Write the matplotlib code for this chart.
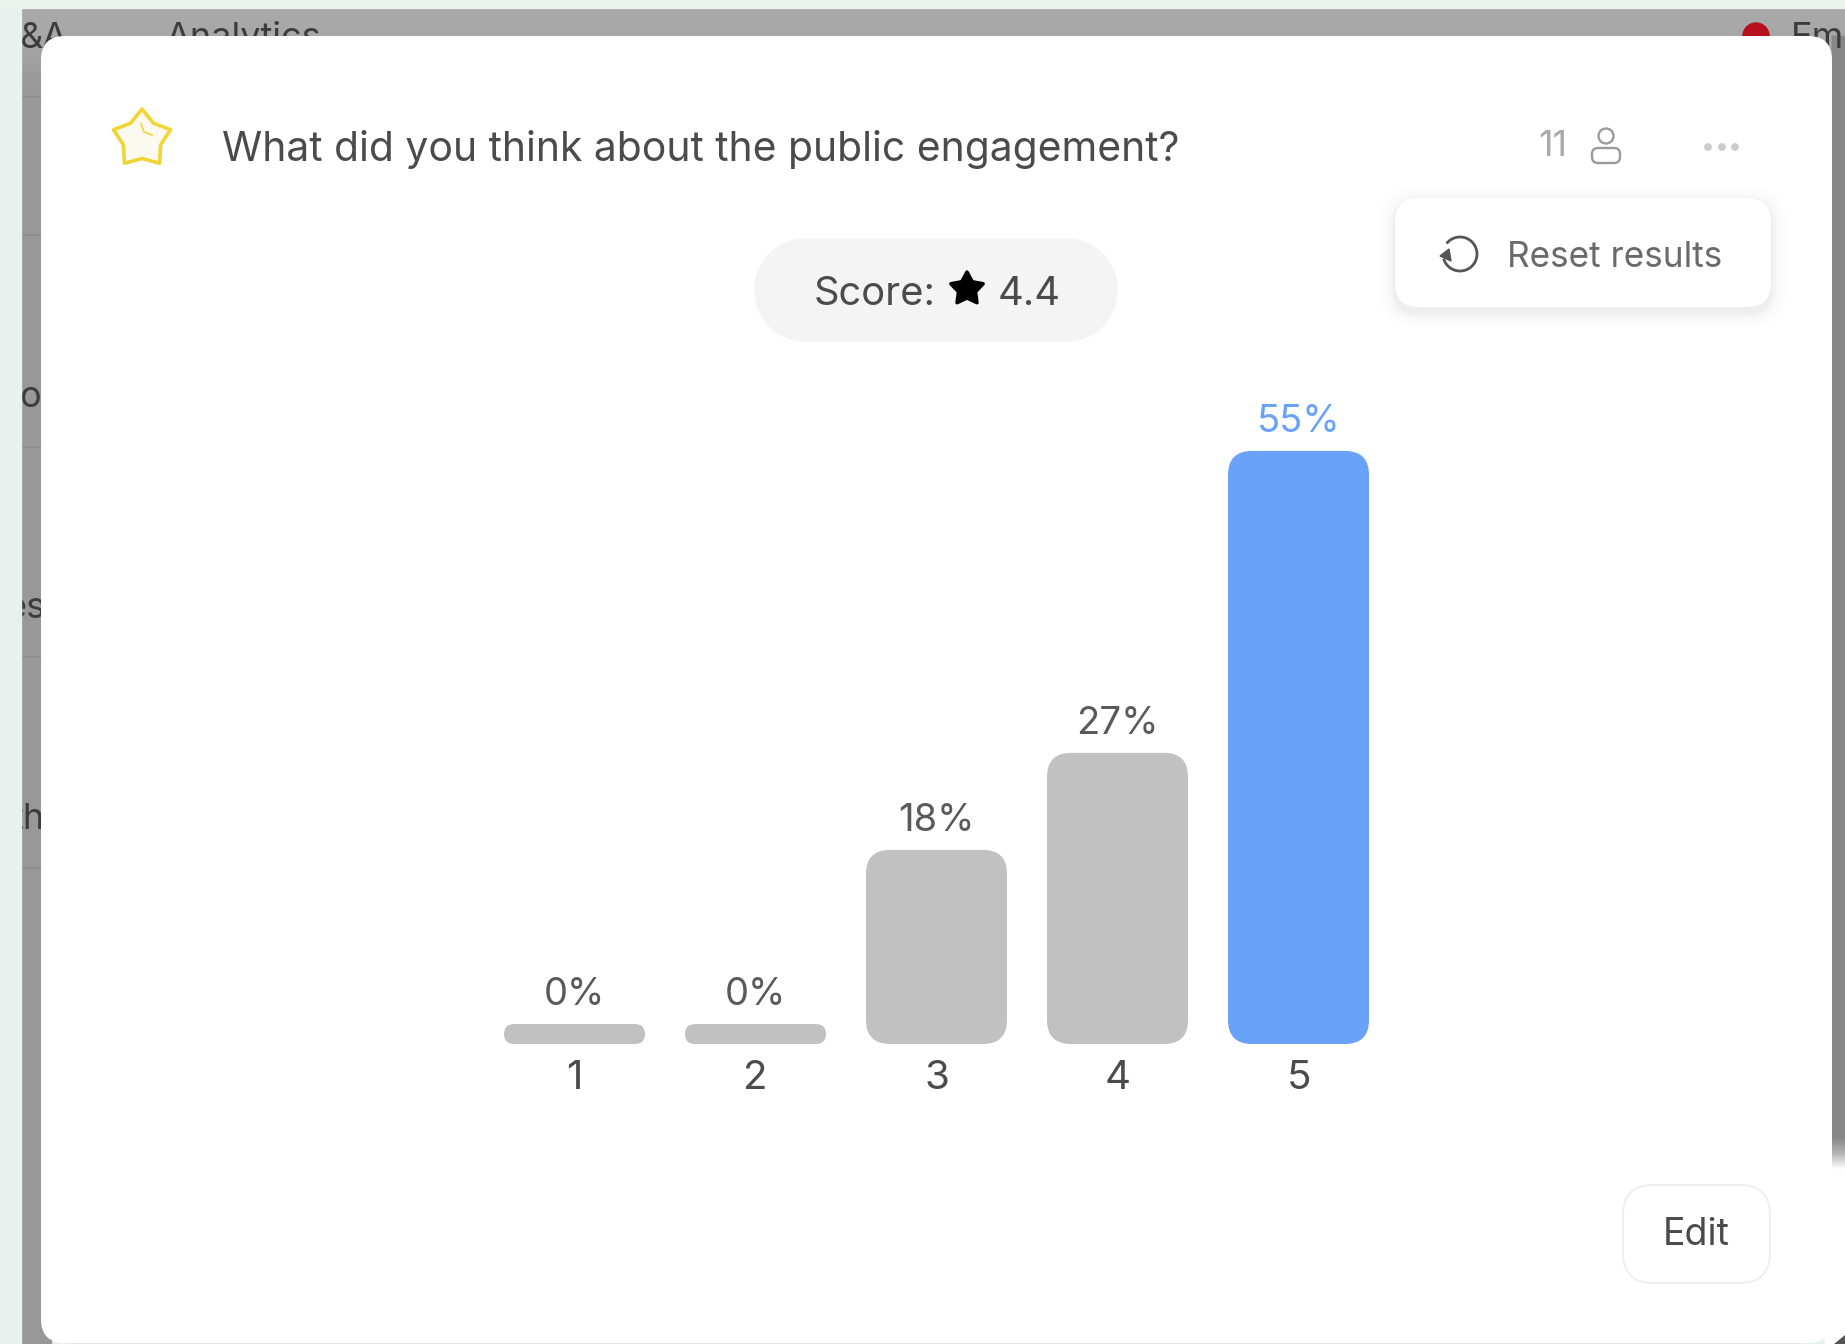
import numpy as np
import matplotlib
matplotlib.use("Agg")
import matplotlib.pyplot as plt
from matplotlib.patches import Arc, Circle, FancyBboxPatch, Polygon, Rectangle

plt.rcParams["font.family"] = ["Inter", "DejaVu Sans"]

RATINGS = ["1", "2", "3", "4", "5"]
PERCENTS = [0, 0, 18, 27, 55]
STUB_HEIGHT = 1.85  # empty answers still get a small pill
QUESTION = "What did you think about the public engagement?"
SCORE = 4.4
RESPONSES = 11

W, H = 1845, 1344
DPI = 100
PX_PT = 72 / DPI

TEXT = "#4b4b4b"
GREY_BAR = "#c1c1c1"
BLUE_BAR = "#69a2f8"


def round_box(ax, x0, y0, x1, y1, r, **kw):
    box = FancyBboxPatch((x0, y0), x1 - x0, y1 - y0, boxstyle=f"round,pad=0,rounding_size={r}", **kw)
    ax.add_patch(box)
    return box


def star_points(cx, cy, outer, inner):
    angles = -np.pi / 2 + np.arange(10) * np.pi / 5
    radii = np.where(np.arange(10) % 2 == 0, outer, inner)
    return np.column_stack([cx + radii * np.cos(angles), cy + radii * np.sin(angles)])


def draw_backdrop(ax):
    # dimmed page behind the dialog
    ax.add_patch(Rectangle((0, 0), W, H, color="#e8f1ee", zorder=0))
    ax.imshow(
        np.array([[0.66], [0.64], [0.60]]), extent=(21, W, 97, 8), cmap="gray", vmin=0, vmax=1,
        aspect="auto", interpolation="bilinear", zorder=1,
    )
    ax.add_patch(Rectangle((21, 97), 30, H - 97, color="#989898", zorder=1))
    for y in [97, 235, 447, 657, 868]:
        ax.plot([21, 41], [y, y], color="#8c8c8c", lw=1.2, zorder=2)

    ax.add_patch(Rectangle((1832, 36), 13, 1094, color="#878787", zorder=1))
    ax.imshow(
        np.array([[0.53], [0.7], [1.0]]), extent=(1832, W, 1177, 1130), cmap="gray", vmin=0, vmax=1,
        aspect="auto", interpolation="bilinear", zorder=1,
    )
    ax.add_patch(Rectangle((1825, 1177), 20, H - 1177, color="white", zorder=1))
    ax.add_patch(Polygon([(1834, H), (W, H), (W, 1335)], color="#555555", zorder=2))
    ax.add_patch(Circle((1756, 36), 13, color="#b5101c", zorder=2))

    for x, y, s, ha in [
        (19, 48, "&A", "left"),
        (165, 48, "Analytics", "left"),
        (1791, 48, "Em", "left"),
        (41, 407, "o", "right"),
        (45, 618, "es", "right"),
        (45, 829, "th", "right"),
    ]:
        ax.text(x, y, s, fontsize=26, color="#3c3c3c", ha=ha, va="baseline", zorder=2)

    # page margin sits over the clipped row labels
    ax.add_patch(Rectangle((0, 0), 21, H, color="#e8f1ee", zorder=3))
    ax.add_patch(Rectangle((0, 0), W, 8, color="#e9f2ed", zorder=3))


def draw_dialog(ax):
    round_box(ax, 41, 36, 1832, 1343, 24, fc="white", ec="none", zorder=4)
    ax.plot([70, 1800], [1343.5, 1343.5], color="#c8c8c8", lw=1, zorder=4)

    # header
    ax.add_patch(Polygon(star_points(142, 139, 30, 19.5), closed=True, fc="#fbf9f0", ec="#f0d535", lw=2.6,
                         joinstyle="round", zorder=5))
    ax.plot([141, 144, 152], [124, 132, 135], color="#f0d535", lw=1.2, zorder=5)
    ax.text(222, 161, QUESTION, fontsize=29.4, color=TEXT, va="baseline", zorder=5)

    ax.text(1538, 156, str(RESPONSES), fontsize=25.5, color="#a9a9a9", va="baseline", zorder=5)
    ax.add_patch(Circle((1606, 136), 7.5, fc="none", ec="#9a9a9a", lw=1.7, zorder=5))
    round_box(ax, 1592, 148, 1620, 163, 6, fc="none", ec="#9a9a9a", lw=1.7, zorder=5)
    for x in [1708, 1722, 1735]:
        ax.add_patch(Circle((x, 147), 3.2, color="#cccccc", zorder=5))

    # reset popup with a soft shadow
    for grow, alpha in [(16, 0.006), (12, 0.008), (8, 0.012), (5, 0.016), (2, 0.025)]:
        round_box(ax, 1395 - grow, 202 - grow, 1771 + grow, 309 + grow + 3, 24 + grow, fc="black", ec="none",
                  alpha=alpha, zorder=5)
    round_box(ax, 1395, 198, 1771, 307, 24, fc="white", ec="none", zorder=6)
    ax.add_patch(Arc((1460, 254), 34, 34, theta1=218, theta2=164, ec="#555555", lw=2.0, zorder=7))
    ax.add_patch(Polygon([(1440, 256), (1449, 249), (1451, 261)], color="#555555", zorder=7))
    ax.text(1507, 267, "Reset results", fontsize=25.3, color="#6a6a6a", va="baseline", zorder=7)

    # score pill, round caps give the full half-circle ends
    ax.plot([806, 1066], [289.5, 289.5], color="#f4f4f4", lw=104 * PX_PT, solid_capstyle="round", zorder=5)
    ax.text(814, 305, "Score:", fontsize=28.7, color=TEXT, va="baseline", zorder=6)
    ax.add_patch(Polygon(star_points(967, 289, 17, 9), closed=True, fc="black", ec="black", lw=2.5,
                         joinstyle="round", zorder=6))
    ax.text(998, 305, f"{SCORE}", fontsize=28.7, color=TEXT, va="baseline", zorder=6)

    # edit button
    round_box(ax, 1623, 1185, 1770, 1283, 30, fc="white", ec="#eeeeee", lw=1.4, zorder=5)
    ax.text(1696.5, 1245, "Edit", fontsize=27, color=TEXT, ha="center", va="baseline", zorder=6)


def draw_bars(fig):
    # slot width and percent scale fixed from the axes box below
    ax = fig.add_axes([484 / W, 1 - 1044 / H, 905 / W, 647 / H], zorder=2)
    ax.patch.set_alpha(0)
    ax.set_xlim(0.5, 5.5)
    ax.set_ylim(0, 60)
    for spine in ax.spines.values():
        spine.set_visible(False)

    px_x = 905 / 5
    px_y = 647 / 60
    xs = np.arange(1, len(RATINGS) + 1)
    best = int(np.argmax(PERCENTS))
    bar_w = 141 / px_x
    for i, (x, pct) in enumerate(zip(xs, PERCENTS)):
        height = max(pct, STUB_HEIGHT)
        radius_px = min(24, height * px_y / 2)
        color = BLUE_BAR if i == best else GREY_BAR
        ax.add_patch(FancyBboxPatch(
            (x - bar_w / 2, 0), bar_w, height,
            boxstyle=f"round,pad=0,rounding_size={radius_px / px_x}",
            mutation_aspect=px_x / px_y, fc=color, ec="none",
        ))
        ax.annotate(
            f"{pct}%", xy=(x, height), xytext=(0, 19 * PX_PT), textcoords="offset points",
            ha="center", va="baseline", fontsize=27.5, color=color if i == best else "#5a5a5a",
        )

    ax.set_xticks(xs, RATINGS)
    ax.set_yticks([])
    ax.tick_params(axis="x", length=0, pad=11.5, labelsize=29, labelcolor=TEXT)


def main():
    fig = plt.figure(figsize=(W / DPI, H / DPI), dpi=DPI)
    bg = fig.add_axes([0, 0, 1, 1], zorder=1)
    draw_backdrop(bg)
    draw_dialog(bg)
    bg.set_xlim(0, W)
    bg.set_ylim(H, 0)
    bg.axis("off")
    draw_bars(fig)
    fig.savefig("out.png", dpi=DPI)
    plt.close(fig)


if __name__ == "__main__":
    main()
